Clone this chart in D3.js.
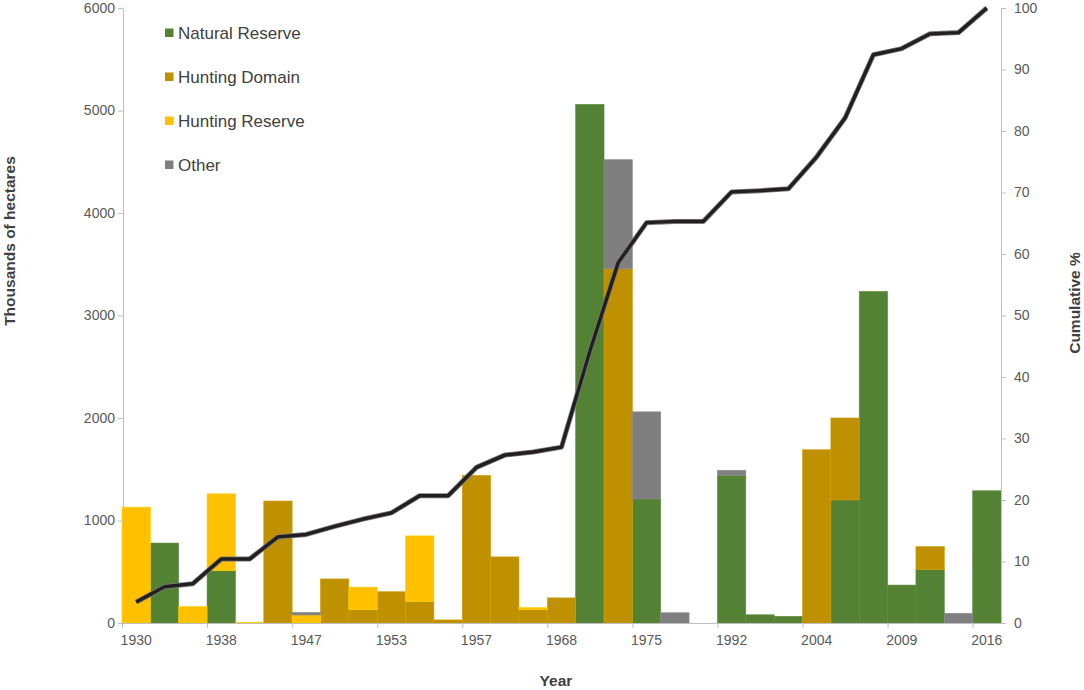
<!DOCTYPE html>
<html>
<head>
<meta charset="utf-8">
<script src="https://cdn.jsdelivr.net/npm/d3@7"></script>
<style>
  body { margin: 0; background: #fff; }
  svg { display: block; font-family: "Liberation Sans", Arial, sans-serif; }
</style>
</head>
<body>
<div id="chart-container"></div>
<script>
// Bars are 31 consecutive categories; only every third one carries a year label.
const barCount = 31;
const yearLabels = ["1930", "1938", "1947", "1953", "1957", "1968", "1975", "1992", "2004", "2009", "2016"];

// Thousands of hectares per category (stack order bottom -> top).
const naturalReserve = [0, 780, 0, 510, 0, 0, 0, 0, 0, 0, 0, 0, 0, 0, 0, 0, 5060, 0, 1210, 0, 0, 1440, 80, 65, 0, 1200, 3235, 370, 520, 0, 1290];
const huntingDomain  = [0, 0, 0, 0, 0, 1190, 0, 430, 130, 305, 210, 30, 1440, 645, 130, 245, 0, 3455, 0, 0, 0, 0, 0, 0, 1690, 800, 0, 0, 225, 0, 0];
const huntingReserve = [1130, 0, 160, 750, 8, 0, 78, 0, 220, 0, 640, 0, 0, 0, 20, 0, 0, 0, 0, 0, 0, 0, 0, 0, 0, 0, 0, 0, 0, 0, 0];
const other          = [0, 0, 0, 0, 0, 0, 25, 0, 0, 0, 0, 0, 0, 0, 0, 0, 0, 1065, 850, 100, 0, 50, 0, 0, 0, 0, 0, 0, 0, 95, 0];

// Cumulative % line.
const cumulative = [3.4, 5.9, 6.4, 10.4, 10.4, 14.0, 14.4, 15.7, 16.9, 17.9, 20.7, 20.7, 25.3, 27.3, 27.8, 28.6,
                    44.2, 58.6, 65.1, 65.3, 65.3, 70.1, 70.3, 70.6, 75.8, 82.1, 92.4, 93.4, 95.8, 96.0, 100];

const seriesNames = ["Natural Reserve", "Hunting Domain", "Hunting Reserve", "Other"];
const seriesColors = ["#548235", "#BF9000", "#FFC000", "#7F7F7F"];

const width = 1084;
const height = 690;
const plotLeft = 122, plotRight = 1001, plotTop = 8, plotBottom = 623;

const svg = d3.select("#chart-container").append("svg")
    .attr("width", width)
    .attr("height", height);

// Scales
const x = d3.scaleBand().domain(d3.range(barCount)).range([plotLeft, plotRight]).padding(0);
const y = d3.scaleLinear().domain([0, 6000]).range([plotBottom, plotTop]);
const y2 = d3.scaleLinear().domain([0, 100]).range([plotBottom, plotTop]);

// Build rows for stacking
const keys = ["natural", "domain", "reserve", "other"];
const rows = d3.range(barCount).map(i => ({
    i,
    natural: naturalReserve[i],
    domain: huntingDomain[i],
    reserve: huntingReserve[i],
    other: other[i]
}));
const stacked = d3.stack().keys(keys)(rows);

// Bars
svg.append("g").selectAll("g")
    .data(stacked)
    .join("g")
    .attr("fill", (d, k) => seriesColors[k])
    .attr("stroke", (d, k) => d3.color(seriesColors[k]).brighter(0.25))
    .attr("stroke-width", 0.6)
    .selectAll("rect")
    .data(d => d.filter(s => s[1] - s[0] > 0))
    .join("rect")
    .attr("x", d => x(d.data.i))
    .attr("width", x.bandwidth())
    .attr("y", d => y(d[1]))
    .attr("height", d => y(d[0]) - y(d[1]));

// Axis styling helper
const axisColor = "#BFBFBF";
const labelColor = "#595959";
function styleAxis(g) {
    g.select(".domain").attr("stroke", axisColor);
    g.selectAll(".tick line").attr("stroke", axisColor);
    g.selectAll(".tick text").attr("fill", labelColor).style("font-size", "14px");
    g.attr("font-family", null);
}

// Left axis
svg.append("g")
    .attr("transform", `translate(${plotLeft + 1},0)`)
    .call(d3.axisLeft(y).tickValues(d3.range(0, 6001, 1000)).tickFormat(d3.format("d"))
        .tickSize(5).tickSizeOuter(0).tickPadding(3))
    .call(styleAxis);

// Right axis
svg.append("g")
    .attr("transform", `translate(${plotRight},0)`)
    .call(d3.axisRight(y2).tickValues(d3.range(0, 101, 10)).tickFormat(d3.format("d"))
        .tickSize(5).tickSizeOuter(0).tickPadding(8))
    .call(styleAxis);

// Bottom axis: labels centred on every third bar, ticks on its left edge
const labelled = d3.range(0, barCount, 3);
const xAxis = svg.append("g")
    .attr("transform", `translate(0,${plotBottom})`)
    .call(d3.axisBottom(x).tickValues(labelled).tickSize(0).tickPadding(12)
        .tickFormat(i => yearLabels[i / 3]))
    .call(styleAxis);
xAxis.select(".domain").attr("d", `M${plotLeft},0.5H${plotRight}`);
xAxis.selectAll(".tickmark")
    .data(labelled)
    .join("line")
    .attr("class", "tickmark")
    .attr("x1", i => x(i) + 0.5)
    .attr("x2", i => x(i) + 0.5)
    .attr("y1", 0)
    .attr("y2", 5)
    .attr("stroke", axisColor);

// Cumulative line
const line = d3.line()
    .x((d, i) => x(i) + x.bandwidth() / 2)
    .y(d => y2(d));

svg.append("path")
    .datum(cumulative)
    .attr("fill", "none")
    .attr("stroke", "#7a7a7a")
    .attr("stroke-width", 5)
    .attr("stroke-linejoin", "round")
    .attr("d", line);
svg.append("path")
    .datum(cumulative)
    .attr("fill", "none")
    .attr("stroke", "#231F20")
    .attr("stroke-width", 3.4)
    .attr("stroke-linejoin", "round")
    .attr("d", line);

// Legend
const legend = svg.append("g").attr("transform", "translate(165,33)");
const item = legend.selectAll("g")
    .data(seriesNames)
    .join("g")
    .attr("transform", (d, k) => `translate(0,${k * 44})`);
item.append("rect")
    .attr("x", 0).attr("y", -4.5)
    .attr("width", 8.5).attr("height", 8.5)
    .attr("fill", (d, k) => seriesColors[k]);
item.append("text")
    .attr("x", 13)
    .attr("y", 6)
    .attr("fill", "#404040")
    .style("font-size", "17px")
    .text(d => d);

// Axis titles
svg.append("text")
    .attr("transform", "translate(15,241) rotate(-90)")
    .attr("text-anchor", "middle")
    .attr("fill", "#404040")
    .style("font-size", "15.5px")
    .style("font-weight", "bold")
    .text("Thousands of hectares");

svg.append("text")
    .attr("transform", "translate(1080,303) rotate(-90)")
    .attr("text-anchor", "middle")
    .attr("fill", "#404040")
    .style("font-size", "15.5px")
    .style("font-weight", "bold")
    .text("Cumulative %");

svg.append("text")
    .attr("x", 556)
    .attr("y", 686)
    .attr("text-anchor", "middle")
    .attr("fill", "#404040")
    .style("font-size", "15.5px")
    .style("font-weight", "bold")
    .text("Year");
</script>
</body>
</html>
